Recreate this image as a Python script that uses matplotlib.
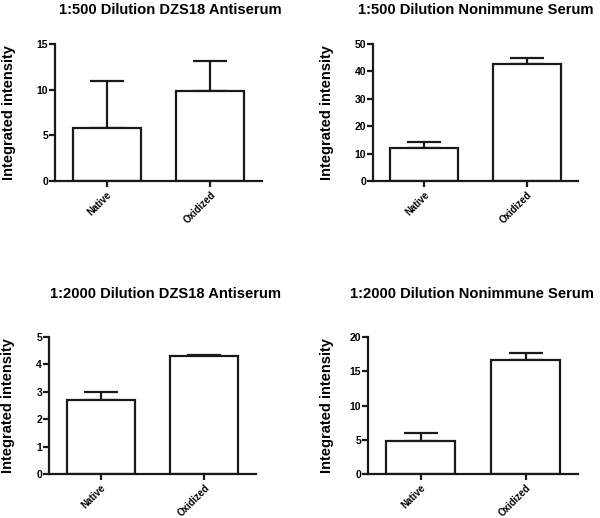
import matplotlib.pyplot as plt

categories = ["Native", "Oxidized"]

titles = [
    "1:500 Dilution DZS18 Antiserum",
    "1:500 Dilution Nonimmune Serum",
    "1:2000 Dilution DZS18 Antiserum",
    "1:2000 Dilution Nonimmune Serum",
]

# mean values and upper error (SEM) per panel
means_500_dzs = [5.8, 9.9]
err_500_dzs = [5.1, 3.2]
means_500_non = [12.0, 42.8]
err_500_non = [2.2, 2.2]
means_2000_dzs = [2.7, 4.3]
err_2000_dzs = [0.3, 0.03]
means_2000_non = [4.8, 16.6]
err_2000_non = [1.2, 1.1]

ymax = [15, 50, 5, 20]
ystep = [5, 10, 1, 5]

plt.rcParams["font.family"] = ["Liberation Sans", "DejaVu Sans"]
plt.rcParams["font.weight"] = "bold"

W, H = 600, 518
fig = plt.figure(figsize=(6, 5.18), dpi=100)

# axes boxes in pixels: left, top, right, bottom
boxes = [
    (55, 44, 262, 181),
    (373, 44, 578, 181),
    (49, 337, 256, 474),
    (368, 337, 578, 474),
]
title_pos = [(170, 10), (476, 10), (166, 294), (472, 294)]
ylabel_pos = [(9, 113), (327, 113), (8, 406), (327, 406)]

data = [
    (means_500_dzs, err_500_dzs),
    (means_500_non, err_500_non),
    (means_2000_dzs, err_2000_dzs),
    (means_2000_non, err_2000_non),
]

lw = 1.6
for i, (means, errs) in enumerate(data):
    l, t, r, b = boxes[i]
    ax = fig.add_axes([l / W, 1 - b / H, (r - l) / W, (b - t) / H])
    x = range(len(categories))
    ax.errorbar(x, means, yerr=[[0] * len(errs), errs], fmt="none",
                ecolor="#1a1a1a", elinewidth=lw, capsize=12, capthick=lw,
                zorder=1)
    ax.bar(x, means, width=0.66, color="white", edgecolor="#1a1a1a",
           linewidth=lw, zorder=2)
    ax.set_xlim(-0.5, 1.5)
    ax.set_ylim(0, ymax[i])
    ax.set_yticks(range(0, ymax[i] + 1, ystep[i]))
    ax.set_xticks(list(x))
    ax.set_xticklabels(categories, rotation=45, ha="right",
                       rotation_mode="anchor", fontsize=7, fontweight="bold")
    for lab in ax.get_yticklabels():
        lab.set_fontsize(7.5)
        lab.set_fontweight("bold")
    ax.spines["top"].set_visible(False)
    ax.spines["right"].set_visible(False)
    for s in ("left", "bottom"):
        ax.spines[s].set_linewidth(lw)
        ax.spines[s].set_color("#1a1a1a")
    ax.tick_params(width=lw, length=4, color="#1a1a1a", pad=1)
    ax.tick_params(axis="x", pad=2)

    tx, ty = title_pos[i]
    fig.text(tx / W, 1 - ty / H, titles[i], ha="center", va="center",
             fontsize=10.6, fontweight="bold")
    lx, ly = ylabel_pos[i]
    fig.text(lx / W, 1 - ly / H, "Integrated intensity", rotation=90,
             ha="center", va="center", fontsize=10.5, fontweight="bold")

fig.savefig("out.png", dpi=100)
